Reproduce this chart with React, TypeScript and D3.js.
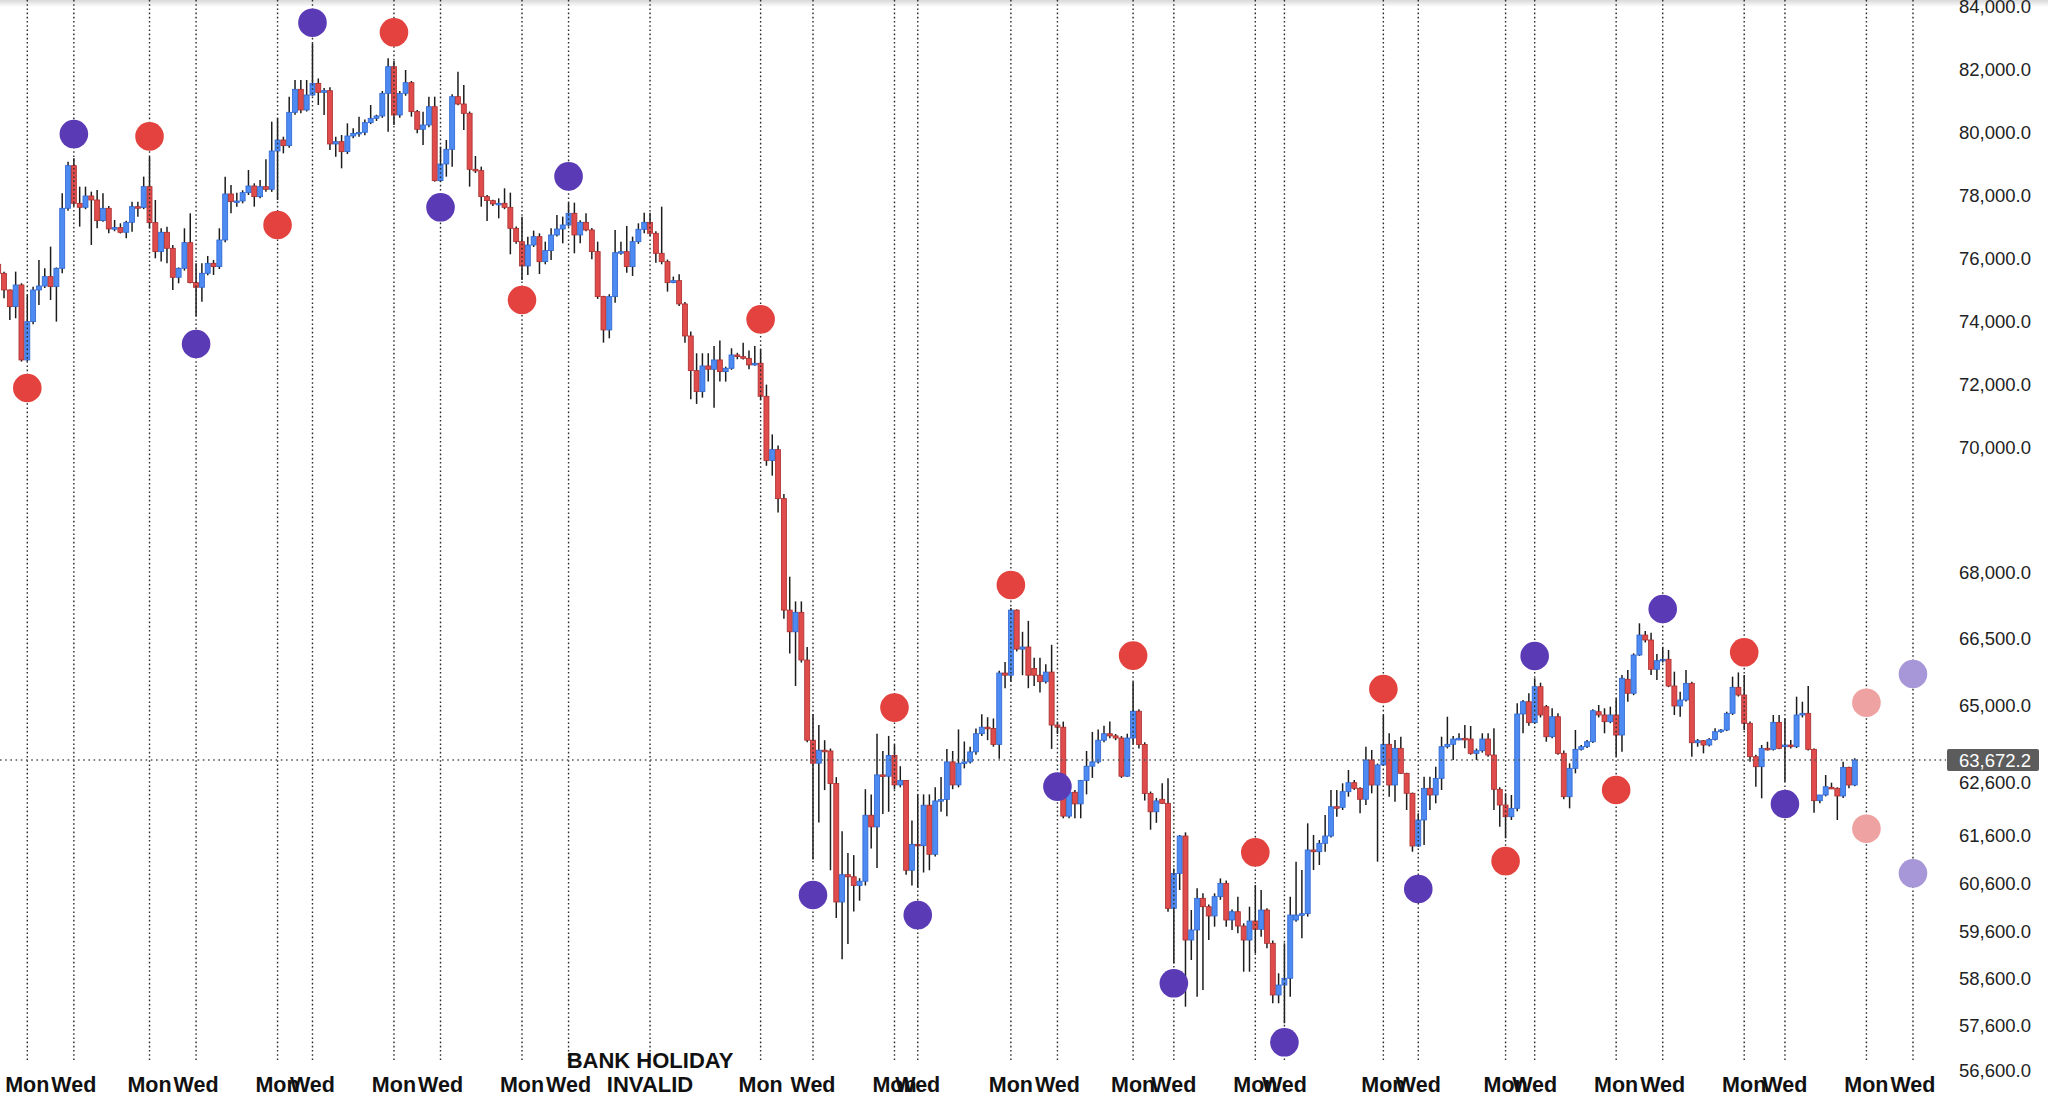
import { useEffect, useRef } from 'react';
import * as d3 from 'd3';

// one candle per slot: [open, high, low, close]
const candles: [number, number, number, number][] = [
  [75800, 76420, 75300, 75514], [75514, 75567, 74721, 74985], [74985, 75000, 74033, 74456], [74456, 75567, 74086, 75144],
  [75144, 75200, 72711, 72764], [72764, 74827, 72711, 73980], [73980, 75091, 73900, 74985], [74985, 75938, 74509, 75112],
  [75112, 75673, 75050, 75409], [75409, 76361, 74668, 75091], [75091, 75700, 73980, 75673], [75673, 78054, 75514, 77578],
  [77578, 79059, 77500, 78932], [78932, 79165, 77650, 77736], [77736, 78265, 76996, 77609], [77609, 78265, 77550, 77969],
  [77969, 78107, 76414, 77842], [77842, 78159, 76943, 77186], [77186, 78054, 77150, 77578], [77578, 77650, 76784, 76922],
  [76922, 77207, 76850, 76964], [76964, 77101, 76780, 76816], [76816, 77180, 76625, 77133], [77133, 77789, 76837, 77630],
  [77630, 77789, 77313, 77599], [77599, 78583, 77550, 78265], [78265, 79217, 76943, 77123], [77123, 77842, 75991, 76202],
  [76202, 76943, 75885, 76816], [76816, 76990, 75832, 76308], [76308, 76414, 74985, 75387], [75387, 75700, 75197, 75673],
  [75673, 76943, 75600, 76488], [76488, 77419, 75197, 75218], [75218, 75832, 74139, 75070], [75070, 75832, 74615, 75514],
  [75514, 76065, 75450, 75832], [75832, 75938, 75462, 75726], [75726, 76943, 75650, 76572], [76572, 78583, 76500, 78033],
  [78033, 78318, 77419, 77789], [77789, 78075, 77630, 77810], [77810, 78150, 77736, 78075], [78075, 78794, 78000, 78286],
  [78286, 78371, 77630, 77948], [77948, 78477, 77900, 78265], [78265, 79133, 78100, 78180], [78180, 80328, 78100, 79397],
  [79397, 80434, 77842, 79746], [79746, 79850, 79323, 79567], [79567, 81122, 79500, 80625], [80625, 81651, 80550, 81355],
  [81355, 81651, 80593, 80699], [80699, 81651, 80650, 81175], [81175, 82815, 81150, 81545], [81545, 81700, 80857, 81259],
  [81259, 81400, 80540, 81312], [81312, 81418, 79429, 79620], [79620, 79852, 79217, 79694], [79694, 79905, 78847, 79376],
  [79376, 80275, 79300, 79873], [79873, 80120, 79800, 79958], [79958, 80487, 79850, 79990], [79990, 80400, 79900, 80297],
  [80297, 80857, 80250, 80434], [80434, 80550, 80350, 80508], [80508, 81300, 80450, 81228], [81228, 82339, 80011, 82074],
  [82074, 82254, 80223, 80540], [80540, 81300, 80450, 81228], [81228, 81968, 81150, 81566], [81566, 81619, 80487, 80646],
  [80646, 80700, 79958, 80085], [80085, 80646, 79588, 80222], [80222, 81122, 80150, 80804], [80804, 81122, 78424, 78455],
  [78455, 79535, 78424, 78984], [78984, 79746, 78582, 79450], [79450, 81200, 78900, 81122], [81122, 81915, 80850, 80889],
  [80889, 81492, 80064, 80593], [80593, 80650, 78265, 78815], [78815, 79238, 78700, 78773], [78773, 78900, 77630, 77948],
  [77948, 78000, 77175, 77821], [77821, 77850, 77650, 77715], [77715, 77895, 77260, 77736], [77736, 78212, 77550, 77609],
  [77609, 78075, 76117, 76942], [76942, 77000, 76450, 76519], [76519, 77313, 75303, 75747], [75747, 76678, 75461, 76413],
  [76413, 76869, 76350, 76678], [76678, 76784, 75493, 75884], [75884, 76519, 75800, 76234], [76234, 76942, 75937, 76731],
  [76731, 77366, 76680, 76921], [76921, 77313, 76466, 77048], [77048, 77757, 77000, 77419], [77419, 77757, 76149, 76731],
  [76731, 77200, 76466, 77133], [77133, 77419, 76850, 76890], [76890, 76950, 75958, 76202], [76202, 76519, 74700, 74774],
  [74774, 74800, 73313, 73716], [73716, 74850, 73451, 74774], [74774, 76890, 74583, 76170], [76170, 76519, 76100, 76202],
  [76202, 77017, 75535, 75726], [75726, 76678, 75430, 76519], [76519, 77101, 76450, 76911], [76911, 77440, 76784, 77133],
  [77133, 77440, 76700, 76784], [76784, 76850, 75853, 76149], [76149, 77630, 75800, 75884], [75884, 75950, 74932, 75218],
  [75218, 75409, 75200, 75281], [75281, 75482, 74480, 74541], [74541, 74600, 73313, 73525], [73525, 73663, 71515, 72425],
  [72425, 72975, 71367, 71758], [71758, 72975, 71568, 72573], [72573, 72975, 72076, 72467], [72467, 73208, 71250, 72764],
  [72764, 73377, 72076, 72393], [72393, 72550, 72076, 72499], [72499, 73134, 72450, 72922], [72922, 72990, 72785, 72869],
  [72869, 73313, 72780, 72816], [72816, 73060, 72467, 72605], [72605, 73208, 72580, 72658], [72658, 73100, 71494, 71610],
  [71610, 71981, 69700, 69784], [69784, 70400, 69542, 69958], [69958, 70050, 68952, 69174], [69174, 69250, 66936, 67134],
  [67134, 67893, 66153, 66641], [66641, 67332, 65425, 67084], [67084, 67332, 65950, 66007], [66007, 66298, 64100, 64150],
  [64150, 64778, 61090, 63516], [63516, 64517, 61834, 63909], [63909, 64150, 62447, 63890], [63890, 63950, 60865, 62570],
  [62570, 62838, 59871, 60204], [60204, 61670, 59000, 60773], [60773, 61225, 59323, 60729], [60729, 61181, 60006, 60548],
  [60548, 60700, 60231, 60637], [60637, 62464, 60548, 61973], [61973, 62366, 61317, 61753], [61753, 64307, 60910, 62947],
  [62947, 63890, 61998, 62882], [62882, 64254, 62038, 63783], [63783, 64046, 62464, 62545], [62545, 63370, 62500, 62673],
  [62673, 62700, 60773, 60865], [60865, 61875, 60548, 61406], [61406, 62366, 60502, 61379], [61379, 62366, 60819, 62162],
  [62162, 62366, 60865, 61198], [61198, 62500, 61150, 62243], [62243, 62838, 62038, 62268], [62268, 63940, 61956, 63580],
  [63580, 63890, 62464, 62545], [62545, 64411, 62500, 63516], [63516, 64119, 63263, 63580], [63580, 63993, 63500, 63868],
  [63868, 64432, 63800, 64307], [64307, 64778, 64250, 64464], [64464, 64705, 64150, 64432], [64432, 64674, 63993, 64046],
  [64046, 65766, 63701, 65716], [65716, 65960, 65376, 65667], [65667, 67180, 65522, 67134], [67134, 67150, 66200, 66251],
  [66251, 66641, 65667, 66298], [66298, 66889, 65376, 65667], [65815, 66057, 65425, 65667], [65667, 66057, 65280, 65522],
  [65522, 65911, 65480, 65737], [65737, 66348, 63940, 64517], [64517, 64600, 64300, 64464], [64464, 64600, 61915, 61956],
  [61956, 62450, 61915, 62407], [62407, 62450, 61915, 62187], [62187, 62700, 61915, 62673], [62673, 63890, 62366, 63370],
  [63370, 64350, 62800, 63580], [63580, 64411, 63500, 64150], [64150, 64500, 64100, 64307], [64307, 64600, 64200, 64254],
  [64254, 64300, 64150, 64203], [64203, 64250, 62800, 62882], [62882, 64307, 62850, 64203], [64203, 65522, 64046, 64850],
  [64850, 64900, 63950, 64046], [64046, 64100, 62250, 62383], [62383, 62420, 61700, 62038], [62038, 62300, 61830, 62243],
  [62274, 62575, 62190, 62198], [62198, 62777, 60000, 60072], [60072, 60900, 58912, 60800], [60800, 61600, 60454, 61579],
  [61579, 61650, 57989, 59408], [59408, 60037, 58983, 59621], [59621, 60489, 58202, 60281], [60281, 60385, 58345, 60106],
  [60106, 60150, 59408, 59913], [59913, 60385, 59690, 60315], [60315, 60696, 60250, 60593], [60593, 60650, 59690, 59829],
  [59829, 60050, 59621, 60002], [60002, 60315, 59551, 59704], [59704, 59760, 58734, 59408], [59408, 60106, 58734, 59808],
  [59808, 60558, 59125, 59635], [59635, 60454, 59479, 60037], [60037, 60072, 59232, 59338], [59338, 59400, 58062, 58238],
  [58238, 58700, 58062, 58451], [58451, 59338, 57636, 58594], [58594, 60315, 58202, 59933], [59829, 61044, 59794, 59933],
  [59933, 60871, 59444, 59960], [59960, 61820, 59900, 61288], [61288, 61600, 60871, 61252], [61252, 61496, 60975, 61427],
  [61427, 61977, 61252, 61579], [61579, 62449, 61550, 62134], [62134, 62449, 61945, 62122], [62122, 62575, 62072, 62417],
  [62417, 63185, 62323, 62587], [62587, 62697, 62450, 62481], [62481, 62500, 62009, 62274], [62274, 63993, 62166, 63672],
  [63672, 63913, 62387, 62543], [62543, 63500, 61044, 63429], [63429, 64759, 63400, 64051], [64051, 64317, 62323, 62543],
  [62543, 64154, 62228, 63954], [63954, 64234, 63000, 63023], [63023, 63050, 62072, 62387], [62387, 62400, 61252, 61371],
  [61371, 62009, 61350, 61883], [61883, 62858, 61392, 62481], [62481, 62858, 62072, 62355], [62355, 63346, 62198, 62777],
  [62777, 64234, 62449, 63993], [63993, 64717, 63950, 64051], [64051, 64250, 63672, 64179], [64179, 64317, 64150, 64195],
  [64195, 64517, 63954, 64179], [64179, 64493, 63800, 63833], [63833, 63950, 63672, 63896], [63896, 64317, 63850, 64179],
  [64179, 64317, 63750, 63792], [63792, 64437, 62072, 62462], [62462, 62500, 61757, 62166], [62166, 62387, 61531, 61945],
  [61945, 62355, 61883, 62103], [62103, 65038, 62050, 64783], [64783, 65112, 64317, 65074], [65074, 65262, 64500, 64573],
  [64573, 65598, 64550, 65410], [65410, 65500, 64700, 64759], [64960, 65000, 64113, 64234], [64234, 64920, 64200, 64717],
  [64717, 64800, 63800, 63833], [63833, 63900, 62274, 62323], [62323, 63509, 62103, 63266], [63266, 64396, 63023, 63930],
  [63930, 64034, 63900, 63993], [63993, 64154, 63960, 64113], [64113, 64896, 64080, 64862], [64838, 65000, 64700, 64759],
  [64759, 64920, 64317, 64597], [64597, 64960, 64560, 64759], [64759, 65150, 63752, 64275], [64275, 65672, 63873, 65598],
  [65576, 65784, 65074, 65262], [65262, 66157, 65220, 66119], [66119, 66834, 66100, 66568], [66568, 66659, 66400, 66455],
  [66455, 66620, 65672, 65799], [65799, 66142, 65560, 65992], [65992, 66292, 65950, 66023], [66023, 66231, 65400, 65425],
  [65425, 65746, 64759, 64976], [64976, 65298, 64717, 65112], [65112, 65784, 65080, 65485], [65485, 65520, 63752, 64089],
  [64089, 64180, 63993, 64138], [64138, 64154, 63833, 64034], [64034, 64200, 64000, 64171], [64171, 64437, 64140, 64355],
  [64355, 64420, 64330, 64396], [64396, 64838, 64370, 64799], [64799, 65635, 64760, 65396], [65396, 65730, 65190, 65224],
  [65224, 65672, 64396, 64557], [64557, 64600, 63590, 63752], [63752, 63800, 62511, 63346], [63346, 64034, 62292, 63954],
  [63954, 64113, 63900, 63930], [63930, 64759, 63900, 64581], [64581, 64759, 63930, 63954], [63993, 64678, 62615, 64034],
  [64034, 64154, 63950, 63993], [63993, 65186, 63960, 64759], [64759, 65074, 64700, 64799], [64799, 65425, 63900, 63930],
  [63930, 63950, 62021, 62248], [62248, 62300, 62200, 62355], [62355, 62940, 62330, 62511], [62499, 62587, 62470, 62481],
  [62481, 62500, 61883, 62336], [62336, 63590, 62300, 63315], [63315, 63340, 62481, 62543], [62543, 63713, 62520, 63672.2],
];

// session markers (candle slot) and their labels
const markIdx = [5, 13, 26, 34, 48, 54, 68, 76, 90, 98, 131, 140, 154, 158, 174, 182, 195, 202, 216, 221, 238, 244, 259, 264, 278, 286, 300, 307, 321, 329];
const markLabel = ['Mon', 'Wed', 'Mon', 'Wed', 'Mon', 'Wed', 'Mon', 'Wed', 'Mon', 'Wed', 'Mon', 'Wed', 'Mon', 'Wed', 'Mon', 'Wed', 'Mon', 'Wed', 'Mon', 'Wed', 'Mon', 'Wed', 'Mon', 'Wed', 'Mon', 'Wed', 'Mon', 'Wed', 'Mon', 'Wed'];
const holidayIdx = 112;
const holidayLabel = ['BANK HOLIDAY', 'INVALID'];

// swing markers
const dotIdx = [5, 13, 26, 34, 48, 54, 68, 76, 90, 98, 131, 140, 154, 158, 174, 182, 195, 202, 216, 221, 238, 244, 259, 264, 278, 286, 300, 307, 321, 321, 329, 329];
const dotPrice = [71873, 79935, 79861, 73270, 77048, 83470, 83165, 77610, 74667, 78590, 74054, 60350, 64937, 59933, 67705, 62513, 66106, 58487, 61240, 57216, 65358, 60475, 61058, 66097, 62449, 67159, 66180, 62185, 65051, 61719, 65694, 60802];
const dotKind = ['r', 'p', 'r', 'p', 'r', 'p', 'r', 'p', 'r', 'p', 'r', 'p', 'r', 'p', 'r', 'p', 'r', 'p', 'r', 'p', 'r', 'p', 'r', 'p', 'r', 'p', 'r', 'p', 'rf', 'rf', 'pf', 'pf'];

const yTicks = [84000, 82000, 80000, 78000, 76000, 74000, 72000, 70000, 68000, 66500, 65000, 62600, 61600, 60600, 59600, 58600, 57600, 56600];
const lastPrice = 63672.2;

const dotColor: Record<string, string> = { r: '#e3423f', p: '#5b3ab6', rf: '#eea2a1', pf: '#a797d8' };

export default function App() {
  const ref = useRef<SVGSVGElement>(null);

  useEffect(() => {
    if (!ref.current) return;
    const svg = d3.select(ref.current);
    svg.selectAll('*').remove();

    const width = 2048;
    const height = 1108;
    const plotRight = 1946;
    const font = '"Liberation Sans", Arial, Helvetica, sans-serif';

    // the printed price axis is not uniform, so map it piece by piece
    const yKnots = [...yTicks.slice(0, 11), lastPrice, ...yTicks.slice(11)];
    const yKnotPx = [6, 69, 132, 195, 258, 321, 384, 447, 572, 638, 705, 760, 782, 835, 883, 931, 978, 1025, 1070];
    const y = d3.scaleLinear().domain(yKnots).range(yKnotPx);
    const x = d3.scaleLinear().domain([0, 320]).range([-1.8, 1860.6]);
    const bodyW = 5;

    svg.append('rect').attr('width', width).attr('height', height).attr('fill', '#ffffff');

    const defs = svg.append('defs');
    const top = defs.append('linearGradient').attr('id', 'topShade').attr('x1', 0).attr('y1', 0).attr('x2', 0).attr('y2', 1);
    top.append('stop').attr('offset', '0%').attr('stop-color', '#d9d9d9');
    top.append('stop').attr('offset', '100%').attr('stop-color', '#ffffff');
    svg.append('rect').attr('width', width).attr('height', 7).attr('fill', 'url(#topShade)');

    defs.append('clipPath').attr('id', 'plotClip')
      .append('rect').attr('x', 0).attr('y', 0).attr('width', plotRight).attr('height', height);

    const plot = svg.append('g').attr('clip-path', 'url(#plotClip)');

    // candles
    const cg = plot.append('g');
    cg.selectAll('line.wick')
      .data(candles)
      .enter().append('line')
      .attr('class', 'wick')
      .attr('x1', (_d, i) => x(i)).attr('x2', (_d, i) => x(i))
      .attr('y1', d => y(d[1])).attr('y2', d => y(d[2]))
      .attr('stroke', '#1c1c1c').attr('stroke-width', 1.5);

    cg.selectAll('rect.body')
      .data(candles)
      .enter().append('rect')
      .attr('class', 'body')
      .attr('x', (_d, i) => x(i) - bodyW / 2)
      .attr('width', bodyW)
      .attr('y', d => Math.min(y(d[0]), y(d[3])))
      .attr('height', d => Math.max(1.6, Math.abs(y(d[0]) - y(d[3]))))
      .attr('fill', d => d[3] >= d[0] ? '#4d8bf3' : '#e04c4c')
      .attr('stroke', d => d[3] >= d[0] ? '#2f66cf' : '#a92e2e')
      .attr('stroke-width', 0.8);

    // session lines
    const lineIdx = [...markIdx, holidayIdx];
    plot.append('g').selectAll('line')
      .data(lineIdx)
      .enter().append('line')
      .attr('x1', d => x(d)).attr('x2', d => x(d))
      .attr('y1', 0).attr('y2', 1062)
      .attr('stroke', '#2a2a2a').attr('stroke-width', 1.4)
      .attr('stroke-dasharray', '1.6,2.6');

    // last price line
    plot.append('line')
      .attr('x1', 0).attr('x2', plotRight)
      .attr('y1', y(lastPrice)).attr('y2', y(lastPrice))
      .attr('stroke', '#555').attr('stroke-width', 1.3)
      .attr('stroke-dasharray', '1.6,3.6');

    // swing dots
    svg.append('g').selectAll('circle')
      .data(dotIdx)
      .enter().append('circle')
      .attr('cx', d => x(d))
      .attr('cy', (_d, i) => y(dotPrice[i]))
      .attr('r', 14.3)
      .attr('fill', (_d, i) => dotColor[dotKind[i]]);

    // x labels
    const xl = svg.append('g').attr('font-family', font).attr('font-weight', 'bold')
      .attr('font-size', '21.5px').attr('fill', '#111').attr('text-anchor', 'middle');
    xl.selectAll('text')
      .data(markIdx)
      .enter().append('text')
      .attr('x', d => x(d)).attr('y', 1092)
      .text((_d, i) => markLabel[i]);
    xl.append('text').attr('x', x(holidayIdx)).attr('y', 1068).attr('font-size', '22px').text(holidayLabel[0]);
    xl.append('text').attr('x', x(holidayIdx)).attr('y', 1092).attr('font-size', '22px').text(holidayLabel[1]);

    // price axis labels
    const fmt = d3.format(',.1f');
    const yl = svg.append('g').attr('font-family', font).attr('font-size', '18.5px').attr('fill', '#222');
    yl.selectAll('text')
      .data(yTicks)
      .enter().append('text')
      .attr('x', 1959).attr('y', d => y(d))
      .attr('dominant-baseline', 'central')
      .text(d => fmt(d));

    // last price tag
    const ly = y(lastPrice);
    svg.append('rect')
      .attr('x', 1947).attr('y', ly - 11).attr('width', 92).attr('height', 22)
      .attr('rx', 2).attr('fill', '#5c5c5c');
    svg.append('text')
      .attr('x', 1959).attr('y', ly)
      .attr('dominant-baseline', 'central')
      .attr('font-family', font).attr('font-size', '18.5px').attr('fill', '#ffffff')
      .text(fmt(lastPrice));
  }, []);

  return (
    <svg
      ref={ref}
      width={2048}
      height={1108}
      style={{ position: 'absolute', left: 0, top: 0, display: 'block' }}
    />
  );
}
